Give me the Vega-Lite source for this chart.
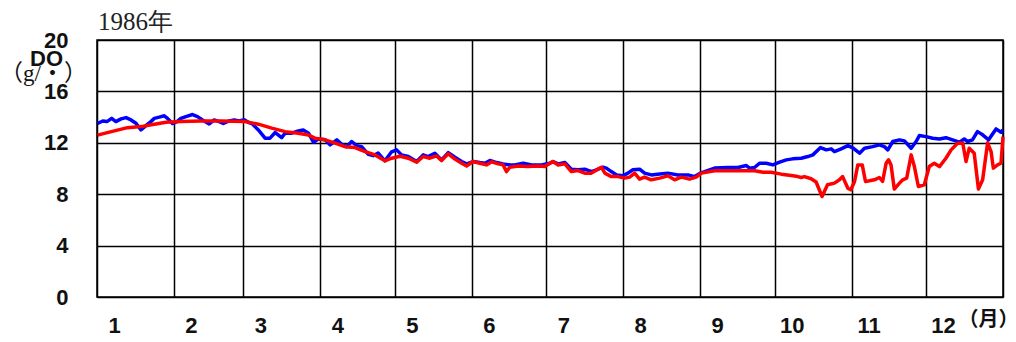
{
  "$schema": "https://vega.github.io/schema/vega-lite/v6.json",
  "autosize": {"type": "none"},
  "width": 906,
  "height": 257,
  "padding": {"left": 97, "top": 40, "right": 13, "bottom": 45},
  "background": "white",
  "title": {
    "text": "1986年",
    "anchor": "start",
    "frame": "group",
    "font": "Liberation Serif",
    "fontSize": 25,
    "fontWeight": "normal",
    "color": "#222",
    "baseline": "alphabetic",
    "offset": 2,
    "dx": 1,
    "dy": 28
  },
  "config": {
    "view": {"stroke": "black", "strokeWidth": 1.5},
    "axis": {
      "labelFont": "Liberation Sans",
      "labelFontSize": 22,
      "labelFontWeight": "bold",
      "labelColor": "#111",
      "titleFont": "Liberation Sans",
      "titleColor": "#111",
      "gridColor": "black",
      "gridOpacity": 1,
      "gridWidth": 1.5,
      "domain": false,
      "ticks": false
    }
  },
  "datasets": {
    "do": [
      {"s": "blue", "d": 0.2, "v": 13.5}, {"s": "blue", "d": 2.3, "v": 13.7}, {"s": "blue", "d": 4.0, "v": 13.65}, {"s": "blue", "d": 5.9, "v": 13.9},
      {"s": "blue", "d": 7.6, "v": 13.65}, {"s": "blue", "d": 9.7, "v": 13.86}, {"s": "blue", "d": 11.7, "v": 13.96}, {"s": "blue", "d": 13.7, "v": 13.78},
      {"s": "blue", "d": 15.7, "v": 13.52}, {"s": "blue", "d": 17.7, "v": 13.0}, {"s": "blue", "d": 19.7, "v": 13.34}, {"s": "blue", "d": 21.7, "v": 13.65},
      {"s": "blue", "d": 23.1, "v": 13.9}, {"s": "blue", "d": 25.1, "v": 14.0}, {"s": "blue", "d": 27.1, "v": 14.1}, {"s": "blue", "d": 28.4, "v": 13.9},
      {"s": "blue", "d": 30.4, "v": 13.5}, {"s": "blue", "d": 32.2, "v": 13.65}, {"s": "blue", "d": 33.8, "v": 13.9}, {"s": "blue", "d": 35.8, "v": 14.04},
      {"s": "blue", "d": 38.5, "v": 14.2}, {"s": "blue", "d": 40.5, "v": 14.04}, {"s": "blue", "d": 42.5, "v": 13.78}, {"s": "blue", "d": 45.2, "v": 13.47},
      {"s": "blue", "d": 47.2, "v": 13.78}, {"s": "blue", "d": 49.2, "v": 13.65}, {"s": "blue", "d": 50.9, "v": 13.5}, {"s": "blue", "d": 53.2, "v": 13.7},
      {"s": "blue", "d": 55.3, "v": 13.78}, {"s": "blue", "d": 57.3, "v": 13.7}, {"s": "blue", "d": 59.3, "v": 13.8}, {"s": "blue", "d": 60.9, "v": 13.6},
      {"s": "blue", "d": 62.4, "v": 13.5}, {"s": "blue", "d": 65.0, "v": 13.0}, {"s": "blue", "d": 67.7, "v": 12.36}, {"s": "blue", "d": 69.7, "v": 12.36},
      {"s": "blue", "d": 71.8, "v": 12.8}, {"s": "blue", "d": 73.1, "v": 12.6}, {"s": "blue", "d": 74.4, "v": 12.4}, {"s": "blue", "d": 75.8, "v": 12.75},
      {"s": "blue", "d": 78.5, "v": 12.75}, {"s": "blue", "d": 81.1, "v": 12.93}, {"s": "blue", "d": 83.1, "v": 13.0}, {"s": "blue", "d": 85.2, "v": 12.75},
      {"s": "blue", "d": 87.2, "v": 12.05}, {"s": "blue", "d": 89.2, "v": 12.3}, {"s": "blue", "d": 91.9, "v": 12.23}, {"s": "blue", "d": 93.9, "v": 11.84},
      {"s": "blue", "d": 96.6, "v": 12.23}, {"s": "blue", "d": 98.6, "v": 11.89}, {"s": "blue", "d": 100.6, "v": 11.7}, {"s": "blue", "d": 102.6, "v": 12.1},
      {"s": "blue", "d": 104.6, "v": 11.78}, {"s": "blue", "d": 106.6, "v": 11.7}, {"s": "blue", "d": 109.3, "v": 11.1}, {"s": "blue", "d": 111.3, "v": 11.0},
      {"s": "blue", "d": 113.3, "v": 11.2}, {"s": "blue", "d": 116.0, "v": 10.6}, {"s": "blue", "d": 118.7, "v": 11.3}, {"s": "blue", "d": 120.7, "v": 11.45},
      {"s": "blue", "d": 122.7, "v": 11.06}, {"s": "blue", "d": 125.4, "v": 10.93}, {"s": "blue", "d": 128.8, "v": 10.54}, {"s": "blue", "d": 131.4, "v": 11.06},
      {"s": "blue", "d": 133.4, "v": 10.93}, {"s": "blue", "d": 136.1, "v": 11.19}, {"s": "blue", "d": 138.8, "v": 10.67}, {"s": "blue", "d": 141.5, "v": 11.24},
      {"s": "blue", "d": 144.2, "v": 10.88}, {"s": "blue", "d": 146.9, "v": 10.54}, {"s": "blue", "d": 148.9, "v": 10.36}, {"s": "blue", "d": 151.5, "v": 10.54},
      {"s": "blue", "d": 154.2, "v": 10.46}, {"s": "blue", "d": 156.3, "v": 10.41}, {"s": "blue", "d": 158.3, "v": 10.62}, {"s": "blue", "d": 161.0, "v": 10.46},
      {"s": "blue", "d": 163.6, "v": 10.36}, {"s": "blue", "d": 166.3, "v": 10.28}, {"s": "blue", "d": 168.3, "v": 10.28}, {"s": "blue", "d": 171.7, "v": 10.41},
      {"s": "blue", "d": 175.1, "v": 10.28}, {"s": "blue", "d": 179.1, "v": 10.28}, {"s": "blue", "d": 182.4, "v": 10.41}, {"s": "blue", "d": 183.7, "v": 10.54},
      {"s": "blue", "d": 185.8, "v": 10.36}, {"s": "blue", "d": 188.5, "v": 10.46}, {"s": "blue", "d": 191.1, "v": 9.95}, {"s": "blue", "d": 193.8, "v": 9.9},
      {"s": "blue", "d": 196.5, "v": 9.95}, {"s": "blue", "d": 199.2, "v": 9.76}, {"s": "blue", "d": 201.2, "v": 9.9}, {"s": "blue", "d": 203.9, "v": 10.1},
      {"s": "blue", "d": 205.2, "v": 10.03}, {"s": "blue", "d": 207.2, "v": 9.76}, {"s": "blue", "d": 209.3, "v": 9.5}, {"s": "blue", "d": 211.9, "v": 9.43},
      {"s": "blue", "d": 213.9, "v": 9.64}, {"s": "blue", "d": 215.9, "v": 9.9}, {"s": "blue", "d": 218.6, "v": 9.95}, {"s": "blue", "d": 220.6, "v": 9.64},
      {"s": "blue", "d": 223.3, "v": 9.5}, {"s": "blue", "d": 226.7, "v": 9.58}, {"s": "blue", "d": 230.0, "v": 9.64}, {"s": "blue", "d": 234.0, "v": 9.5},
      {"s": "blue", "d": 238.1, "v": 9.5}, {"s": "blue", "d": 240.8, "v": 9.37}, {"s": "blue", "d": 243.5, "v": 9.68}, {"s": "blue", "d": 244.8, "v": 9.76},
      {"s": "blue", "d": 248.8, "v": 10.03}, {"s": "blue", "d": 254.2, "v": 10.08}, {"s": "blue", "d": 258.2, "v": 10.08}, {"s": "blue", "d": 261.6, "v": 10.23},
      {"s": "blue", "d": 262.9, "v": 10.03}, {"s": "blue", "d": 264.9, "v": 10.08}, {"s": "blue", "d": 266.9, "v": 10.41}, {"s": "blue", "d": 269.6, "v": 10.41},
      {"s": "blue", "d": 272.3, "v": 10.28}, {"s": "blue", "d": 275.0, "v": 10.49}, {"s": "blue", "d": 277.7, "v": 10.67}, {"s": "blue", "d": 280.3, "v": 10.75},
      {"s": "blue", "d": 283.7, "v": 10.8}, {"s": "blue", "d": 286.4, "v": 10.93}, {"s": "blue", "d": 288.4, "v": 11.06}, {"s": "blue", "d": 291.5, "v": 11.63},
      {"s": "blue", "d": 293.8, "v": 11.45}, {"s": "blue", "d": 295.8, "v": 11.53}, {"s": "blue", "d": 297.1, "v": 11.32}, {"s": "blue", "d": 299.8, "v": 11.53},
      {"s": "blue", "d": 302.5, "v": 11.78}, {"s": "blue", "d": 304.5, "v": 11.6}, {"s": "blue", "d": 307.2, "v": 11.19}, {"s": "blue", "d": 309.2, "v": 11.58},
      {"s": "blue", "d": 312.5, "v": 11.7}, {"s": "blue", "d": 315.2, "v": 11.84}, {"s": "blue", "d": 317.2, "v": 11.7}, {"s": "blue", "d": 318.6, "v": 11.45},
      {"s": "blue", "d": 320.6, "v": 12.1}, {"s": "blue", "d": 323.3, "v": 12.23}, {"s": "blue", "d": 325.3, "v": 12.15}, {"s": "blue", "d": 328.0, "v": 11.58},
      {"s": "blue", "d": 330.0, "v": 12.1}, {"s": "blue", "d": 331.3, "v": 12.56}, {"s": "blue", "d": 334.0, "v": 12.48}, {"s": "blue", "d": 336.7, "v": 12.36},
      {"s": "blue", "d": 339.4, "v": 12.3}, {"s": "blue", "d": 342.0, "v": 12.4}, {"s": "blue", "d": 344.7, "v": 12.23}, {"s": "blue", "d": 347.4, "v": 12.05},
      {"s": "blue", "d": 349.4, "v": 12.3}, {"s": "blue", "d": 350.7, "v": 12.1}, {"s": "blue", "d": 352.7, "v": 12.23}, {"s": "blue", "d": 354.7, "v": 12.87},
      {"s": "blue", "d": 356.8, "v": 12.62}, {"s": "blue", "d": 359.2, "v": 12.23}, {"s": "blue", "d": 362.2, "v": 13.08}, {"s": "blue", "d": 364.2, "v": 12.82},
      {"s": "blue", "d": 365, "v": 13.0},
      {"s": "red", "d": 0.2, "v": 12.6}, {"s": "red", "d": 7.0, "v": 12.93}, {"s": "red", "d": 12.3, "v": 13.18}, {"s": "red", "d": 17.7, "v": 13.26},
      {"s": "red", "d": 23.1, "v": 13.45}, {"s": "red", "d": 27.8, "v": 13.6}, {"s": "red", "d": 33.8, "v": 13.65}, {"s": "red", "d": 41.9, "v": 13.7},
      {"s": "red", "d": 49.9, "v": 13.7}, {"s": "red", "d": 59.7, "v": 13.65}, {"s": "red", "d": 65.0, "v": 13.45}, {"s": "red", "d": 70.4, "v": 13.14},
      {"s": "red", "d": 75.8, "v": 12.87}, {"s": "red", "d": 81.1, "v": 12.75}, {"s": "red", "d": 85.2, "v": 12.6}, {"s": "red", "d": 87.8, "v": 12.36},
      {"s": "red", "d": 91.9, "v": 12.23}, {"s": "red", "d": 95.9, "v": 11.97}, {"s": "red", "d": 99.9, "v": 11.7}, {"s": "red", "d": 103.9, "v": 11.63},
      {"s": "red", "d": 108.0, "v": 11.32}, {"s": "red", "d": 112.0, "v": 11.06}, {"s": "red", "d": 116.0, "v": 10.6}, {"s": "red", "d": 118.7, "v": 10.8},
      {"s": "red", "d": 122.1, "v": 10.95}, {"s": "red", "d": 125.4, "v": 10.8}, {"s": "red", "d": 128.8, "v": 10.49}, {"s": "red", "d": 131.4, "v": 10.93},
      {"s": "red", "d": 134.1, "v": 10.8}, {"s": "red", "d": 136.8, "v": 10.98}, {"s": "red", "d": 138.8, "v": 10.62}, {"s": "red", "d": 141.5, "v": 11.14},
      {"s": "red", "d": 144.2, "v": 10.73}, {"s": "red", "d": 146.9, "v": 10.41}, {"s": "red", "d": 148.9, "v": 10.2}, {"s": "red", "d": 151.5, "v": 10.54},
      {"s": "red", "d": 154.2, "v": 10.41}, {"s": "red", "d": 156.9, "v": 10.28}, {"s": "red", "d": 159.0, "v": 10.52}, {"s": "red", "d": 161.6, "v": 10.36},
      {"s": "red", "d": 163.6, "v": 10.28}, {"s": "red", "d": 165.0, "v": 9.76}, {"s": "red", "d": 166.3, "v": 10.1}, {"s": "red", "d": 169.7, "v": 10.2},
      {"s": "red", "d": 173.7, "v": 10.15}, {"s": "red", "d": 177.7, "v": 10.2}, {"s": "red", "d": 180.4, "v": 10.15}, {"s": "red", "d": 183.7, "v": 10.54},
      {"s": "red", "d": 185.8, "v": 10.28}, {"s": "red", "d": 188.5, "v": 10.36}, {"s": "red", "d": 191.1, "v": 9.76}, {"s": "red", "d": 193.8, "v": 9.84},
      {"s": "red", "d": 196.5, "v": 9.64}, {"s": "red", "d": 199.2, "v": 9.64}, {"s": "red", "d": 201.8, "v": 9.95}, {"s": "red", "d": 203.2, "v": 10.1},
      {"s": "red", "d": 204.6, "v": 9.64}, {"s": "red", "d": 207.2, "v": 9.37}, {"s": "red", "d": 209.9, "v": 9.37}, {"s": "red", "d": 212.6, "v": 9.25},
      {"s": "red", "d": 214.6, "v": 9.33}, {"s": "red", "d": 216.6, "v": 9.64}, {"s": "red", "d": 218.6, "v": 9.17}, {"s": "red", "d": 220.6, "v": 9.33},
      {"s": "red", "d": 223.3, "v": 9.12}, {"s": "red", "d": 226.7, "v": 9.25}, {"s": "red", "d": 230.0, "v": 9.43}, {"s": "red", "d": 232.7, "v": 9.12},
      {"s": "red", "d": 235.4, "v": 9.33}, {"s": "red", "d": 238.7, "v": 9.17}, {"s": "red", "d": 241.4, "v": 9.33}, {"s": "red", "d": 243.5, "v": 9.64},
      {"s": "red", "d": 248.8, "v": 9.82}, {"s": "red", "d": 260.9, "v": 9.82}, {"s": "red", "d": 264.9, "v": 9.82}, {"s": "red", "d": 268.3, "v": 9.71},
      {"s": "red", "d": 271.6, "v": 9.71}, {"s": "red", "d": 275.7, "v": 9.56}, {"s": "red", "d": 279.7, "v": 9.45}, {"s": "red", "d": 282.3, "v": 9.37},
      {"s": "red", "d": 283.7, "v": 9.3}, {"s": "red", "d": 285.0, "v": 9.37}, {"s": "red", "d": 287.7, "v": 9.2}, {"s": "red", "d": 289.7, "v": 8.95},
      {"s": "red", "d": 292.1, "v": 7.82}, {"s": "red", "d": 294.3, "v": 8.73}, {"s": "red", "d": 297.1, "v": 8.86}, {"s": "red", "d": 299.1, "v": 9.12},
      {"s": "red", "d": 300.4, "v": 9.37}, {"s": "red", "d": 302.5, "v": 8.47}, {"s": "red", "d": 303.7, "v": 8.34}, {"s": "red", "d": 305.2, "v": 8.99},
      {"s": "red", "d": 306.5, "v": 10.28}, {"s": "red", "d": 308.3, "v": 10.28}, {"s": "red", "d": 309.6, "v": 8.99}, {"s": "red", "d": 311.2, "v": 9.04},
      {"s": "red", "d": 313.2, "v": 9.12}, {"s": "red", "d": 315.2, "v": 9.3}, {"s": "red", "d": 316.5, "v": 8.99}, {"s": "red", "d": 317.9, "v": 10.4},
      {"s": "red", "d": 318.9, "v": 10.67}, {"s": "red", "d": 319.9, "v": 10.28}, {"s": "red", "d": 321.2, "v": 8.4}, {"s": "red", "d": 323.3, "v": 8.86},
      {"s": "red", "d": 324.6, "v": 9.12}, {"s": "red", "d": 326.2, "v": 9.25}, {"s": "red", "d": 328.0, "v": 11.06}, {"s": "red", "d": 329.3, "v": 10.15},
      {"s": "red", "d": 330.9, "v": 8.6}, {"s": "red", "d": 333.3, "v": 8.73}, {"s": "red", "d": 335.3, "v": 10.15}, {"s": "red", "d": 337.3, "v": 10.41},
      {"s": "red", "d": 339.4, "v": 10.15}, {"s": "red", "d": 342.0, "v": 10.8}, {"s": "red", "d": 344.1, "v": 11.45}, {"s": "red", "d": 346.7, "v": 11.97},
      {"s": "red", "d": 348.8, "v": 11.97}, {"s": "red", "d": 350.1, "v": 10.54}, {"s": "red", "d": 351.4, "v": 11.58}, {"s": "red", "d": 353.4, "v": 11.19},
      {"s": "red", "d": 355.1, "v": 8.4}, {"s": "red", "d": 356.8, "v": 9.12}, {"s": "red", "d": 358.8, "v": 12.0}, {"s": "red", "d": 360.2, "v": 11.32},
      {"s": "red", "d": 361.1, "v": 10.03}, {"s": "red", "d": 362.8, "v": 10.28}, {"s": "red", "d": 364.2, "v": 10.41}, {"s": "red", "d": 365, "v": 12.48}
    ]
  },
  "data": {"name": "do"},
  "encoding": {
    "x": {
      "field": "d",
      "type": "quantitative",
      "scale": {"domain": [0, 365], "nice": false, "zero": false},
      "axis": {
        "values": [0, 31, 59, 90, 120, 151, 181, 212, 243, 273, 304, 334, 365],
        "labelExpr": "datum.value >= 365 ? '' : toString(month(datetime(1986, 0, 1 + datum.value)) + 1)",
        "labelAlign": "center",
        "labelBaseline": "top",
        "labelOffset": 17,
        "labelPadding": 18,
        "labelOverlap": false,
        "labelBound": false,
        "labelFlush": false,
        "title": "（月）",
        "titleFont": "Noto Sans CJK JP",
        "titleFontSize": 20,
        "titleFontWeight": "bold",
        "titleX": 891,
        "titleY": 12,
        "titleAlign": "center",
        "titleBaseline": "top"
      }
    }
  },
  "layer": [
    {
      "transform": [{"filter": "datum.s === 'blue'"}],
      "mark": {"type": "line", "color": "#0000ff", "strokeWidth": 3.5, "strokeJoin": "round"},
      "encoding": {
        "y": {
          "field": "v",
          "type": "quantitative",
          "scale": {"domain": [0, 20], "nice": false},
          "axis": {
            "values": [0, 4, 8, 12, 16, 20],
            "labelPadding": 29,
            "labelDy": 6,
            "title": "DO",
            "titleAngle": 0,
            "titleFontSize": 22,
            "titleFontWeight": "bold",
            "titleX": -51,
            "titleY": 8,
            "titleAlign": "center",
            "titleBaseline": "top"
          }
        }
      }
    },
    {
      "transform": [{"filter": "datum.s === 'red'"}],
      "mark": {"type": "line", "color": "#ff0000", "strokeWidth": 3.5, "strokeJoin": "round"},
      "encoding": {
        "y": {
          "field": "v",
          "type": "quantitative",
          "scale": {"domain": [0, 20], "nice": false},
          "axis": {
            "orient": "right",
            "labels": false,
            "grid": false,
            "title": "（g/・）",
            "titleFont": "Liberation Serif, Noto Sans CJK JP",
            "titleFontSize": 23,
            "titleFontWeight": "normal",
            "titleAngle": 0,
            "titleX": -960,
            "titleY": 22,
            "titleAlign": "center",
            "titleBaseline": "top"
          }
        }
      }
    }
  ],
  "resolve": {"scale": {"y": "independent"}}
}
